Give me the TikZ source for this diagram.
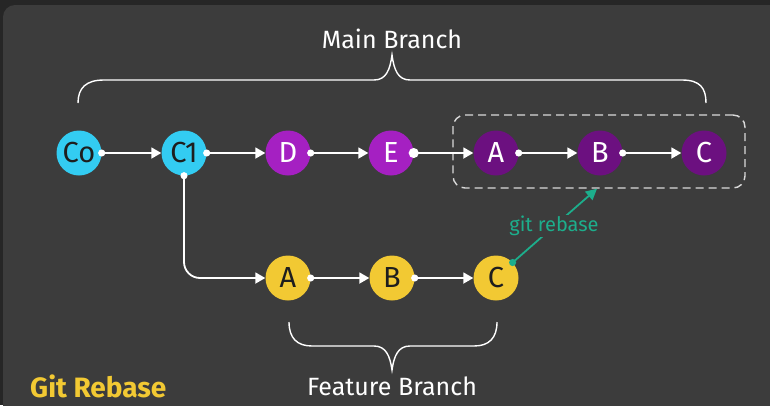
\documentclass[tikz,border=0pt]{standalone}
\usepackage{fontspec}
\setmainfont{Fira Sans}
\usetikzlibrary{arrows.meta}
\definecolor{outerbg}{HTML}{262626}
\definecolor{panel}{HTML}{3C3C3C}
\definecolor{cyanc}{HTML}{33CCF2}
\definecolor{purl}{HTML}{A520C2}
\definecolor{purd}{HTML}{6C1080}
\definecolor{yel}{HTML}{F2C933}
\definecolor{tealc}{HTML}{1DAE8C}
\definecolor{darktxt}{HTML}{1E1E1E}
\tikzset{
  commit/.style={circle, minimum size=45pt, inner sep=0pt, font=\fontsize{29}{29}\selectfont},
  cyancommit/.style={commit, fill=cyanc, text=darktxt},
  purlcommit/.style={commit, fill=purl, text=white},
  purdcommit/.style={commit, fill=purd, text=white},
  yelcommit/.style={commit, fill=yel, text=darktxt},
  conn/.style={draw=white, line width=1.8pt, shorten <=-3.5pt, {Circle[length=7pt]}-{Triangle[length=10pt,width=11pt]}},
  bigconn/.style={draw=white, line width=1.8pt, shorten <=-5pt, {Circle[length=10pt]}-{Triangle[length=10pt,width=11pt]}},
  brace/.style={draw=white, line width=1.4pt},
  title/.style={text=white, font=\fontsize{25}{25}\selectfont},
}
\begin{document}
\begin{tikzpicture}[x=1pt,y=-1pt]
\useasboundingbox (0,0) rectangle (770,405);
\clip (0,0) rectangle (770,405);
\fill[outerbg] (0,0) rectangle (770,405);
\fill[panel, rounded corners=12pt] (3,5) rectangle (800,440);

% main branch
\node[cyancommit] (c0) at (79,153) {Co};
\node[cyancommit] (c1) at (184,153) {C1};
\node[purlcommit] (d) at (288,153) {D};
\node[purlcommit] (e) at (391,153) {E};
\node[purdcommit] (ma) at (496,153) {A};
\node[purdcommit] (mb) at (600,153) {B};
\node[purdcommit] (mc) at (704,153) {C};

% feature branch
\node[yelcommit] (fa) at (288,278) {A};
\node[yelcommit] (fb) at (392,278) {B};
\node[yelcommit] (fc) at (496,278) {C};

% dashed box
\node[draw=white!85!black, dashed, dash pattern=on 8pt off 5pt, line width=1.4pt, rounded corners=12pt,
      minimum width=292pt, minimum height=73pt, inner sep=0pt] (box) at (599,151.5) {};

% connectors
\draw[conn] (c0.east) -- (c1.west);
\draw[conn] (c1.east) -- (d.west);
\draw[conn] (d.east) -- (e.west);
\draw[bigconn] (e.east) -- (ma.west);
\draw[conn] (ma.east) -- (mb.west);
\draw[conn] (mb.east) -- (mc.west);
\draw[conn, rounded corners=16pt] (c1.south) |- (fa.west);
\draw[conn] (fa.east) -- (fb.west);
\draw[conn] (fb.east) -- (fc.west);

% git rebase
\coordinate (tgt) at ([xshift=-2pt]box.south);
\draw[draw=tealc, line width=1.8pt, shorten <=-3.5pt, {Circle[length=7pt]}-{Triangle[length=11pt,width=11pt]}] (fc.43) -- (tgt);
\node[fill=panel, text=tealc, inner sep=1pt, font=\fontsize{20}{20}\selectfont] (gr) at (554,226) {git rebase};

% braces
\draw[brace] (78,103) .. controls (78,88) and (86,80) .. (104,80) -- (374,80)
  .. controls (386,80) and (390,70) .. (392,55)
  .. controls (394,70) and (398,80) .. (410,80) -- (682,80)
  .. controls (700,80) and (706,88) .. (706,103);
\draw[brace] (289,322) .. controls (289,338) and (297,346) .. (312,346) -- (374,346)
  .. controls (386,346) and (390,356) .. (392,370)
  .. controls (394,356) and (398,346) .. (410,346) -- (474,346)
  .. controls (489,346) and (497,338) .. (497,322);

% titles
\node[title] (mbt) at (392,39) {Main Branch};
\node[title] (fbt) at (392,386) {Feature Branch};
\node[text=yel, font=\bfseries\fontsize{28}{28}\selectfont, anchor=west, inner sep=0pt] (gitr) at (30,386) {Git Rebase};
\end{tikzpicture}
\end{document}
